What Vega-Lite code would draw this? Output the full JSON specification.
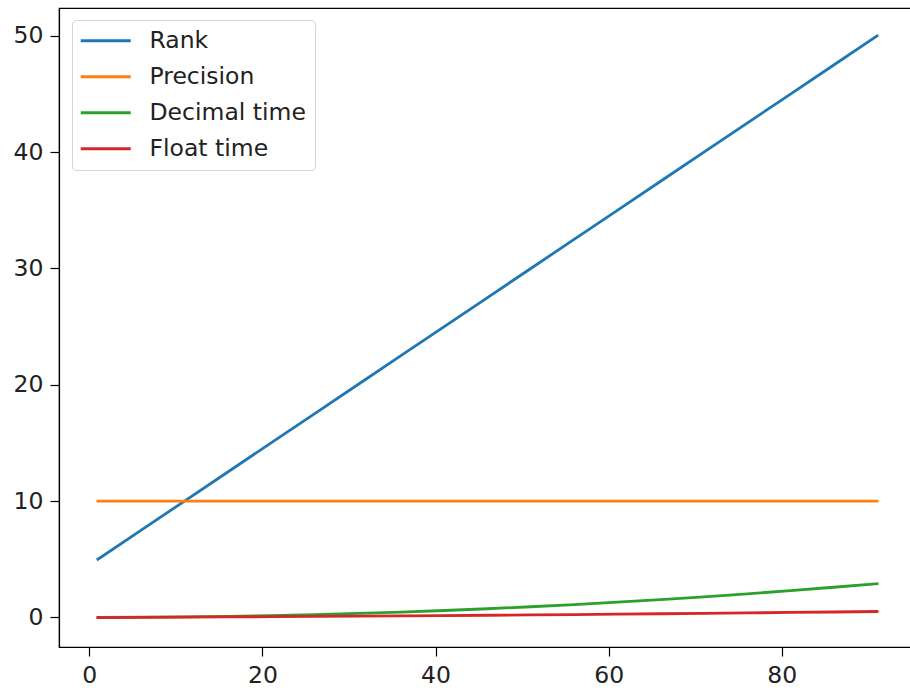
{
  "$schema": "https://vega.github.io/schema/vega-lite/v6.json",
  "width": 857,
  "height": 639,
  "autosize": {"type": "none"},
  "padding": {"left": 59, "top": 8, "right": 0, "bottom": 43},
  "background": "white",
  "config": {
    "view": {"stroke": "black", "strokeWidth": 1.2},
    "font": "DejaVu Sans",
    "axis": {"grid": false, "domainColor": "black", "tickColor": "black", "labelColor": "#222", "labelFontSize": 23.5, "tickSize": 9, "tickWidth": 1.2, "domainWidth": 1.2, "labelPadding": 7, "labelFont": "DejaVu Sans"}
  },
  "data": {"values": [
    {"x":1,"s":"Rank","v":5},{"x":6,"s":"Rank","v":7.5},{"x":11,"s":"Rank","v":10},{"x":16,"s":"Rank","v":12.5},{"x":21,"s":"Rank","v":15},{"x":26,"s":"Rank","v":17.5},{"x":31,"s":"Rank","v":20},{"x":36,"s":"Rank","v":22.5},{"x":41,"s":"Rank","v":25},{"x":46,"s":"Rank","v":27.5},{"x":51,"s":"Rank","v":30},{"x":56,"s":"Rank","v":32.5},{"x":61,"s":"Rank","v":35},{"x":66,"s":"Rank","v":37.5},{"x":71,"s":"Rank","v":40},{"x":76,"s":"Rank","v":42.5},{"x":81,"s":"Rank","v":45},{"x":86,"s":"Rank","v":47.5},{"x":91,"s":"Rank","v":50},
    {"x":1,"s":"Precision","v":10},{"x":6,"s":"Precision","v":10},{"x":11,"s":"Precision","v":10},{"x":16,"s":"Precision","v":10},{"x":21,"s":"Precision","v":10},{"x":26,"s":"Precision","v":10},{"x":31,"s":"Precision","v":10},{"x":36,"s":"Precision","v":10},{"x":41,"s":"Precision","v":10},{"x":46,"s":"Precision","v":10},{"x":51,"s":"Precision","v":10},{"x":56,"s":"Precision","v":10},{"x":61,"s":"Precision","v":10},{"x":66,"s":"Precision","v":10},{"x":71,"s":"Precision","v":10},{"x":76,"s":"Precision","v":10},{"x":81,"s":"Precision","v":10},{"x":86,"s":"Precision","v":10},{"x":91,"s":"Precision","v":10},
    {"x":1,"s":"Decimal time","v":0.0},{"x":6,"s":"Decimal time","v":0.013},{"x":11,"s":"Decimal time","v":0.042},{"x":16,"s":"Decimal time","v":0.09},{"x":21,"s":"Decimal time","v":0.154},{"x":26,"s":"Decimal time","v":0.237},{"x":31,"s":"Decimal time","v":0.336},{"x":36,"s":"Decimal time","v":0.454},{"x":41,"s":"Decimal time","v":0.588},{"x":46,"s":"Decimal time","v":0.741},{"x":51,"s":"Decimal time","v":0.91},{"x":56,"s":"Decimal time","v":1.098},{"x":61,"s":"Decimal time","v":1.302},{"x":66,"s":"Decimal time","v":1.525},{"x":71,"s":"Decimal time","v":1.764},{"x":76,"s":"Decimal time","v":2.022},{"x":81,"s":"Decimal time","v":2.296},{"x":86,"s":"Decimal time","v":2.589},{"x":91,"s":"Decimal time","v":2.898},
    {"x":1,"s":"Float time","v":-0.03},{"x":6,"s":"Float time","v":0.0},{"x":11,"s":"Float time","v":0.02},{"x":16,"s":"Float time","v":0.04},{"x":21,"s":"Float time","v":0.055},{"x":26,"s":"Float time","v":0.075},{"x":31,"s":"Float time","v":0.1},{"x":36,"s":"Float time","v":0.125},{"x":41,"s":"Float time","v":0.15},{"x":46,"s":"Float time","v":0.18},{"x":51,"s":"Float time","v":0.21},{"x":56,"s":"Float time","v":0.24},{"x":61,"s":"Float time","v":0.275},{"x":66,"s":"Float time","v":0.31},{"x":71,"s":"Float time","v":0.345},{"x":76,"s":"Float time","v":0.38},{"x":81,"s":"Float time","v":0.42},{"x":86,"s":"Float time","v":0.46},{"x":91,"s":"Float time","v":0.5}
  ]},
  "mark": {"type": "line", "strokeWidth": 2.8, "clip": true, "strokeCap": "square"},
  "encoding": {
    "x": {"field": "x", "type": "quantitative", "scale": {"domain": [-3.5, 95.5], "nice": false, "zero": false}, "axis": {"values": [0, 20, 40, 60, 80], "title": null}},
    "y": {"field": "v", "type": "quantitative", "scale": {"domain": [-2.55, 52.4], "nice": false, "zero": false}, "axis": {"values": [0, 10, 20, 30, 40, 50], "title": null}},
    "color": {"field": "s", "type": "nominal",
      "scale": {"domain": ["Rank", "Precision", "Decimal time", "Float time"], "range": ["#1f77b4", "#ff7f0e", "#2ca02c", "#d62728"]},
      "legend": {"title": null, "orient": "none", "legendX": 13, "legendY": 12, "symbolType": "M-2.5,0H2.5", "symbolSize": 400, "symbolStrokeWidth": 2.8, "symbolOffset": 13, "labelFontSize": 23.5, "labelFont": "DejaVu Sans", "labelColor": "#222", "strokeColor": "#d5d5d5", "fillColor": "white", "cornerRadius": 4, "padding": 9, "rowPadding": 11, "labelOffset": 32}
    },
    "order": {"field": "x"}
  }
}
